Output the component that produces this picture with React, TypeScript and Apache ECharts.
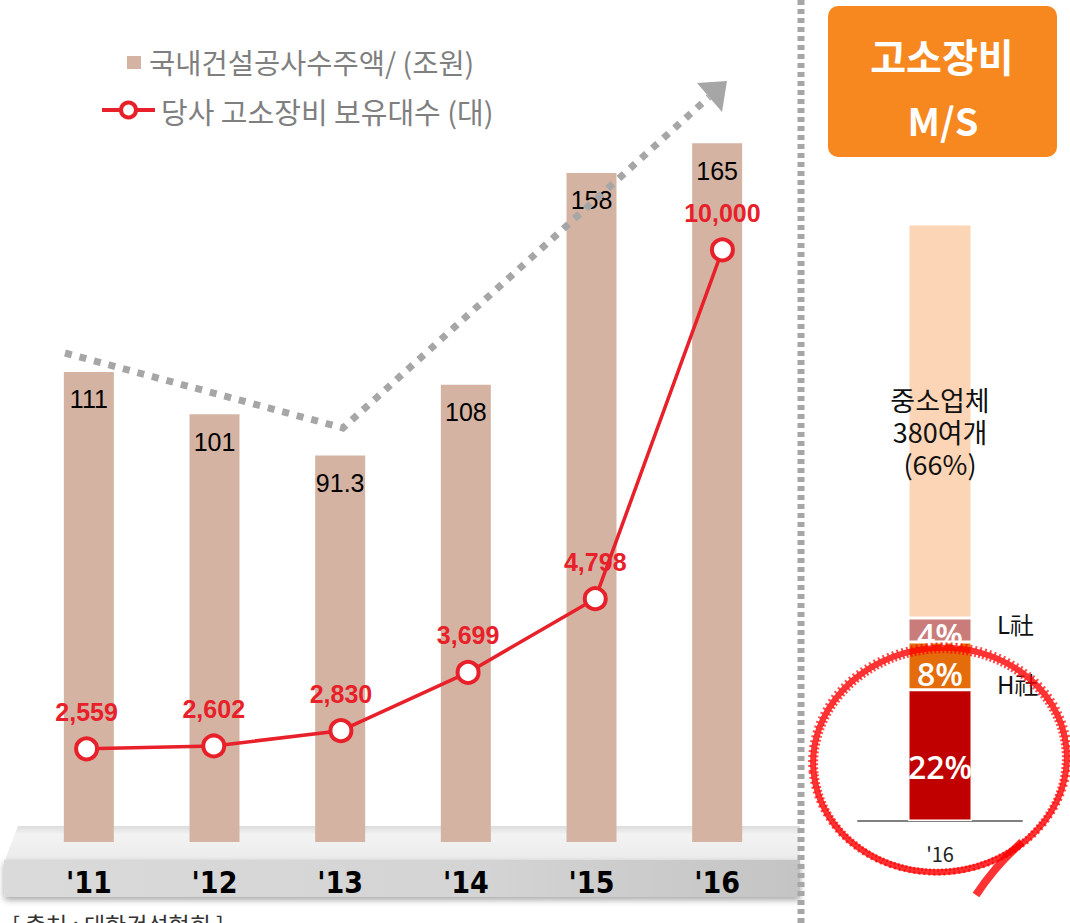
import React, { useEffect, useRef } from "react";
import * as echarts from "echarts";

const years = ["'11", "'12", "'13", "'14", "'15", "'16"];
const orderValues = [111, 101, 91.3, 108, 158, 165];
const fleetCounts = [2559, 2602, 2830, 3699, 4798, 10000];
const msCategory = ["'16"];
const msOurs = [22];
const msH = [8];
const msL = [4];
const msSmall = [66];
const legendOrder = "국내건설공사수주액/ (조원)";
const legendFleet = "당사 고소장비 보유대수 (대)";
const boxTitle1 = "고소장비";
const boxTitle2 = "M/S";
const smallLabel = "중소업체\n380여개\n(66%)";
const lLabel = "L社";
const hLabel = "H社";
const sourceNote = "[ 출처 : 대한건설협회 ]";

const RED = "#E8202A";
const GRAY_DOT = "#A6A6A6";
const KR = "'Noto Sans CJK KR', 'Noto Sans', sans-serif";
const ARIAL = "'Liberation Sans', Arial, sans-serif";
const PCT = "'Open Sans', 'Noto Sans', sans-serif";

export default function App() {
  const ref = useRef<HTMLDivElement>(null);
  useEffect(() => {
    if (!ref.current) return;
    const chart = echarts.init(ref.current, null, { renderer: "svg" });
    const pctLabel = (size: number, dy: number) => ({
      show: true,
      position: "inside",
      offset: [0, dy],
      formatter: "{c}%",
      fontSize: size,
      fontWeight: 600,
      color: "#fff",
      fontFamily: PCT,
    });
    const option: any = {
      animation: false,
      backgroundColor: "#ffffff",
      grid: [
        { left: 26, top: 101, width: 754, height: 741 },
        { left: 858, top: 224, width: 164, height: 597 },
        { left: 23, top: 101, width: 763, height: 741 },
      ],
      xAxis: [
        {
          type: "category",
          gridIndex: 0,
          data: years,
          z: 5,
          axisLine: { show: false },
          axisTick: { show: false },
          axisLabel: {
            margin: 25,
            fontSize: 30,
            fontWeight: "bold",
            color: "#000",
            fontFamily: "'Liberation Sans Narrow', 'DejaVu Sans Condensed', 'Liberation Sans', sans-serif",
          },
        },
        {
          type: "category",
          gridIndex: 1,
          data: msCategory,
          axisLine: { show: true, lineStyle: { color: "#808080", width: 2 } },
          axisTick: { show: false },
          axisLabel: { margin: 22, fontSize: 20, color: "#222", fontFamily: KR },
        },
        { type: "category", gridIndex: 2, data: years, show: false },
      ],
      yAxis: [
        { type: "value", gridIndex: 0, min: 0, max: 175, show: false, splitLine: { show: false } },
        { type: "value", gridIndex: 1, min: 0, max: 100, show: false, splitLine: { show: false } },
        { type: "value", gridIndex: 2, min: 1170, max: 12220, show: false, splitLine: { show: false } },
      ],
      series: [
        {
          type: "bar",
          xAxisIndex: 0,
          yAxisIndex: 0,
          data: orderValues,
          barWidth: 50,
          itemStyle: { color: "#D4B3A3" },
          label: {
            show: true,
            position: "insideTop",
            distance: 15,
            fontSize: 25,
            color: "#000",
            fontFamily: ARIAL,
          },
        },
        {
          type: "line",
          xAxisIndex: 2,
          yAxisIndex: 2,
          data: fleetCounts,
          z: 6,
          symbol: "circle",
          symbolSize: 21,
          lineStyle: { color: RED, width: 3.5 },
          itemStyle: { color: "#fff", borderColor: RED, borderWidth: 4 },
          label: {
            show: true,
            position: "top",
            distance: 12,
            fontSize: 25,
            fontWeight: "bold",
            color: RED,
            fontFamily: ARIAL,
            formatter: (p: any) => Number(p.value).toLocaleString("en-US"),
          },
        },
        {
          type: "bar",
          xAxisIndex: 1,
          yAxisIndex: 1,
          stack: "ms",
          data: msOurs,
          barWidth: 64,
          itemStyle: { color: "#C00000", borderColor: "#fff", borderWidth: 1.5 },
          label: pctLabel(32, 11),
        },
        {
          type: "bar",
          xAxisIndex: 1,
          yAxisIndex: 1,
          stack: "ms",
          data: msH,
          barWidth: 64,
          itemStyle: { color: "#E46C0A", borderColor: "#fff", borderWidth: 1.5 },
          label: pctLabel(32, 8),
        },
        {
          type: "bar",
          xAxisIndex: 1,
          yAxisIndex: 1,
          stack: "ms",
          data: msL,
          barWidth: 64,
          itemStyle: { color: "#C97C7A", borderColor: "#fff", borderWidth: 1.5 },
          label: pctLabel(32, 5),
        },
        {
          type: "bar",
          xAxisIndex: 1,
          yAxisIndex: 1,
          stack: "ms",
          data: msSmall,
          barWidth: 64,
          itemStyle: { color: "#FBD5B5", borderColor: "#fff", borderWidth: 1.5 },
          label: {
            show: true,
            position: "inside",
            offset: [0, 10],
            formatter: () => smallLabel,
            fontSize: 27,
            lineHeight: 32,
            color: "#111",
            fontFamily: KR,
          },
        },
      ],
      graphic: {
        elements: [
          {
            type: "polygon",
            z: -5,
            shape: { points: [[18, 826], [800, 826], [800, 860], [5, 860]] },
            style: {
              fill: {
                type: "linear", x: 0, y: 0, x2: 0, y2: 1,
                colorStops: [
                  { offset: 0, color: "#dcdcdc" },
                  { offset: 0.25, color: "#f3f3f3" },
                  { offset: 1, color: "#ebebeb" },
                ],
              },
            },
          },
          {
            type: "rect",
            z: -5,
            shape: { x: 4, y: 860, width: 796, height: 37, r: [0, 0, 0, 4] },
            style: {
              fill: {
                type: "linear", x: 0, y: 0, x2: 1, y2: 0,
                colorStops: [
                  { offset: 0, color: "#dadada" },
                  { offset: 0.6, color: "#d4d4d4" },
                  { offset: 1, color: "#c4c4c4" },
                ],
              },
              shadowBlur: 6,
              shadowColor: "rgba(0,0,0,0.35)",
              shadowOffsetY: 3,
            },
          },
          {
            type: "rect",
            shape: { x: 127, y: 56, width: 14, height: 13 },
            style: { fill: "#D4B3A3" },
          },
          {
            type: "text",
            x: 149,
            y: 61,
            style: {
              text: legendOrder,
              fill: "#7F7F7F",
              fontSize: 28.5,
              fontFamily: KR,
              verticalAlign: "middle",
              align: "left",
            },
          },
          {
            type: "line",
            shape: { x1: 102, y1: 110, x2: 155, y2: 110 },
            style: { stroke: RED, lineWidth: 4 },
          },
          {
            type: "circle",
            shape: { cx: 128.5, cy: 110, r: 7.5 },
            style: { fill: "#fff", stroke: RED, lineWidth: 4 },
          },
          {
            type: "text",
            x: 161,
            y: 111,
            style: {
              text: legendFleet,
              fill: "#7F7F7F",
              fontSize: 29,
              fontFamily: KR,
              verticalAlign: "middle",
              align: "left",
            },
          },
          {
            type: "polyline",
            z: 10,
            shape: { points: [[65, 353], [343, 428], [709, 97]] },
            style: { stroke: GRAY_DOT, lineWidth: 7, lineDash: [7, 8], fill: null },
          },
          {
            type: "polygon",
            z: 10,
            shape: { points: [[697, 83], [727, 81], [722, 112]] },
            style: { fill: GRAY_DOT },
          },
          {
            type: "line",
            z: 50,
            shape: { x1: 801, y1: 0, x2: 801, y2: 923 },
            style: { stroke: GRAY_DOT, lineWidth: 7, lineDash: [5, 4] },
          },
          {
            type: "rect",
            shape: { x: 828, y: 6, width: 229, height: 151, r: 10 },
            style: { fill: "#F6881F" },
          },
          {
            type: "text",
            x: 942,
            y: 55,
            style: {
              text: boxTitle1,
              fill: "#fff",
              fontSize: 39,
              fontWeight: "bold",
              fontFamily: KR,
              align: "center",
              verticalAlign: "middle",
            },
          },
          {
            type: "text",
            x: 943,
            y: 119,
            style: {
              text: boxTitle2,
              fill: "#fff",
              fontSize: 38,
              fontWeight: "bold",
              fontFamily: KR,
              align: "center",
              verticalAlign: "middle",
            },
          },
          {
            type: "text",
            x: 997,
            y: 623,
            style: { text: lLabel, fill: "#111", fontSize: 24, fontFamily: KR, verticalAlign: "middle" },
          },
          {
            type: "text",
            x: 997,
            y: 683,
            style: { text: hLabel, fill: "#111", fontSize: 24, fontFamily: KR, verticalAlign: "middle" },
          },
          {
            type: "ellipse",
            z: 100,
            x: 940,
            y: 760,
            rotation: 0.1,
            shape: { cx: 0, cy: 0, rx: 127, ry: 112 },
            style: { fill: null, stroke: "rgba(255,0,0,0.8)", lineWidth: 6 },
          },
          {
            type: "ellipse",
            z: 101,
            x: 940,
            y: 761,
            rotation: 0.1,
            shape: { cx: 0, cy: 0, rx: 123.5, ry: 109 },
            style: { fill: null, stroke: "rgba(255,0,0,0.7)", lineWidth: 3, lineDash: [2, 2] },
          },
          {
            type: "ellipse",
            z: 101,
            x: 940,
            y: 759,
            rotation: 0.1,
            shape: { cx: 0, cy: 0, rx: 130.5, ry: 115 },
            style: { fill: null, stroke: "rgba(255,0,0,0.7)", lineWidth: 3, lineDash: [2, 3] },
          },
          {
            type: "bezierCurve",
            z: 100,
            shape: { x1: 1022, y1: 842, cpx1: 995, cpy1: 866, x2: 976, y2: 895 },
            style: { fill: null, stroke: "rgba(255,0,0,0.8)", lineWidth: 8 },
          },
          {
            type: "text",
            x: 12,
            y: 912,
            style: {
              text: sourceNote,
              fill: "#333",
              fontSize: 23,
              fontFamily: KR,
              verticalAlign: "top",
            },
          },
        ],
      },
    };
    chart.setOption(option);
    return () => chart.dispose();
  }, []);
  return (
    <div
      ref={ref}
      style={{ position: "fixed", left: 0, top: 0, width: 1070, height: 923 }}
    />
  );
}
